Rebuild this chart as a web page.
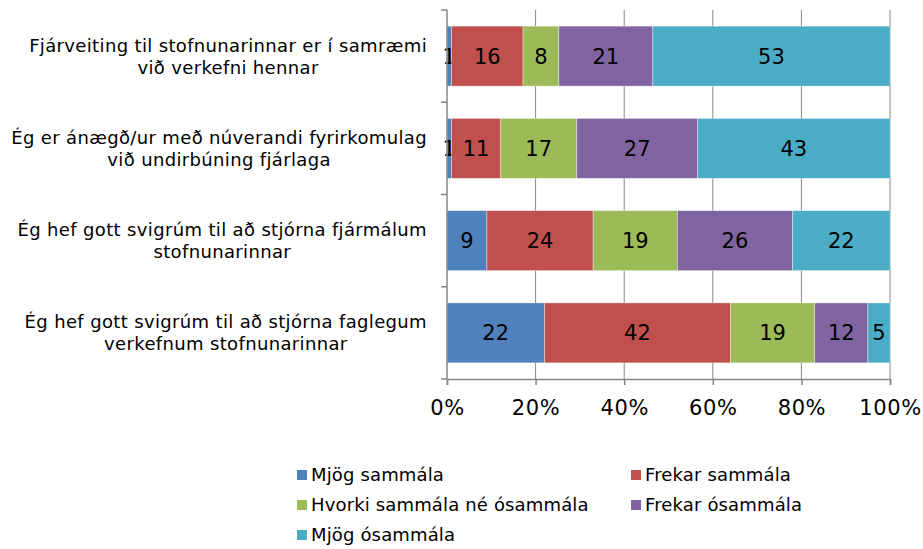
<!DOCTYPE html>
<html>
<head>
<meta charset="utf-8">
<script src="https://cdn.jsdelivr.net/npm/d3@7"></script>
<style>
  body { margin: 0; background: #fff; }
  svg { font-family: "DejaVu Sans", Verdana, sans-serif; }
</style>
</head>
<body>
<script>
// categories, top to bottom (each label is two lines)
const categories = [
  ["Fjárveiting til stofnunarinnar er í samræmi", "við verkefni hennar"],
  ["Ég er ánægð/ur með núverandi fyrirkomulag", "við undirbúning fjárlaga"],
  ["Ég hef gott svigrúm til að stjórna fjármálum", "stofnunarinnar"],
  ["Ég hef gott svigrúm til að stjórna faglegum", "verkefnum stofnunarinnar"]
];
const seriesNames = [
  "Mjög sammála",
  "Frekar sammála",
  "Hvorki sammála né ósammála",
  "Frekar ósammála",
  "Mjög ósammála"
];
// one array per series, in category order
const mjogSammala = [1, 1, 9, 22];
const frekarSammala = [16, 11, 24, 42];
const hvorki = [8, 17, 19, 19];
const frekarOsammala = [21, 27, 26, 12];
const mjogOsammala = [53, 43, 22, 5];
const tickLabels = ["0%", "20%", "40%", "60%", "80%", "100%"];

const colors = ["#4F81BD", "#C0504D", "#9BBB59", "#8064A2", "#4BACC6"];

const width = 923,
  height = 549;
const margin = { top: 10, left: 447, right: 33, bottom: 170 };

const svg = d3
  .select("body")
  .append("svg")
  .attr("width", width)
  .attr("height", height)
  .attr("viewBox", [0, 0, width, height]);

// build rows for the stack
const values = [mjogSammala, frekarSammala, hvorki, frekarOsammala, mjogOsammala];
const rows = categories.map((c, i) => {
  const r = { idx: i };
  seriesNames.forEach((s, j) => (r[s] = values[j][i]));
  return r;
});

const stacked = d3
  .stack()
  .keys(seriesNames)
  .offset(d3.stackOffsetExpand)(rows);

const x = d3
  .scaleLinear()
  .domain([0, 1])
  .range([margin.left, width - margin.right]);

const y = d3
  .scaleBand()
  .domain(d3.range(categories.length))
  .range([margin.top, height - margin.bottom])
  .paddingInner(0.35)
  .paddingOuter(0.175);

const axisColor = "#868686";

// vertical gridlines
svg
  .append("g")
  .selectAll("line")
  .data(d3.range(0.2, 1.01, 0.2))
  .join("line")
  .attr("x1", (d) => x(d))
  .attr("x2", (d) => x(d))
  .attr("y1", margin.top)
  .attr("y2", height - margin.bottom)
  .attr("stroke", axisColor)
  .attr("stroke-width", 1);

// bars
const layer = svg
  .append("g")
  .selectAll("g")
  .data(stacked)
  .join("g")
  .attr("fill", (d, i) => colors[i]);

layer
  .selectAll("rect")
  .data((d) => d)
  .join("rect")
  .attr("x", (d) => x(d[0]))
  .attr("width", (d) => x(d[1]) - x(d[0]))
  .attr("y", (d) => y(d.data.idx))
  .attr("height", y.bandwidth())
  .attr("stroke", "rgba(255,255,255,0.5)")
  .attr("stroke-width", 0.75);

// value labels
layer
  .selectAll("text")
  .data((d) => d.map((v) => ({ v, key: d.key })))
  .join("text")
  .attr("x", (d) => (x(d.v[0]) + x(d.v[1])) / 2)
  .attr("y", (d) => y(d.v.data.idx) + y.bandwidth() / 2)
  .attr("dy", "0.36em")
  .attr("text-anchor", "middle")
  .attr("font-size", 21)
  .attr("fill", "#000")
  .text((d) => d.v.data[d.key]);

// x axis
const xAxis = svg
  .append("g")
  .attr("transform", `translate(0,${height - margin.bottom})`)
  .call(
    d3
      .axisBottom(x)
      .tickValues(d3.range(0, 1.01, 0.2))
      .tickFormat((d, i) => tickLabels[i])
      .tickSize(6)
      .tickPadding(15)
  );
xAxis.select(".domain").attr("stroke", axisColor).attr("stroke-width", 1.5);
xAxis.selectAll(".tick line").attr("stroke", axisColor).attr("stroke-width", 1.5);
xAxis
  .selectAll(".tick text")
  .attr("font-size", 21)
  .attr("letter-spacing", 0.6)
  .attr("fill", "#000")
  .attr("font-family", "DejaVu Sans, Verdana, sans-serif");

// y axis line with category boundary ticks
const yAxis = svg.append("g");
yAxis
  .append("line")
  .attr("x1", margin.left)
  .attr("x2", margin.left)
  .attr("y1", margin.top)
  .attr("y2", height - margin.bottom)
  .attr("stroke", axisColor)
  .attr("stroke-width", 1.5);
const step = (height - margin.bottom - margin.top) / categories.length;
yAxis
  .selectAll(".bt")
  .data(d3.range(categories.length + 1))
  .join("line")
  .attr("class", "bt")
  .attr("x1", margin.left - 6)
  .attr("x2", margin.left)
  .attr("y1", (d) => margin.top + d * step)
  .attr("y2", (d) => margin.top + d * step)
  .attr("stroke", axisColor)
  .attr("stroke-width", 1.5);

// category labels: two centred lines, block right-aligned
const labelRight = 427;
categories.forEach((lines, i) => {
  const cy = y(i) + y.bandwidth() / 2;
  const g = svg.append("g");
  const t = g
    .append("text")
    .attr("text-anchor", "middle")
    .attr("font-size", 18)
    .attr("letter-spacing", 0.35)
    .attr("fill", "#000");
  lines.forEach((ln, k) => {
    t.append("tspan")
      .attr("x", 0)
      .attr("y", cy + (k - (lines.length - 1) / 2) * 22)
      .attr("dy", "0.36em")
      .text(ln);
  });
  const w = t.node().getBBox().width;
  g.attr("transform", `translate(${labelRight - w / 2},0)`);
});

// legend
const legendCols = [297, 631];
const legend = svg
  .append("g")
  .selectAll("g")
  .data(seriesNames)
  .join("g")
  .attr(
    "transform",
    (d, i) => `translate(${legendCols[i % 2]},${475 + Math.floor(i / 2) * 30})`
  );
legend
  .append("rect")
  .attr("x", 0)
  .attr("y", -5)
  .attr("width", 10)
  .attr("height", 10)
  .attr("fill", (d, i) => colors[i]);
legend
  .append("text")
  .attr("x", 14)
  .attr("dy", "0.36em")
  .attr("font-size", 18)
  .attr("letter-spacing", 0.15)
  .attr("fill", "#000")
  .text((d) => d);
</script>
</body>
</html>
